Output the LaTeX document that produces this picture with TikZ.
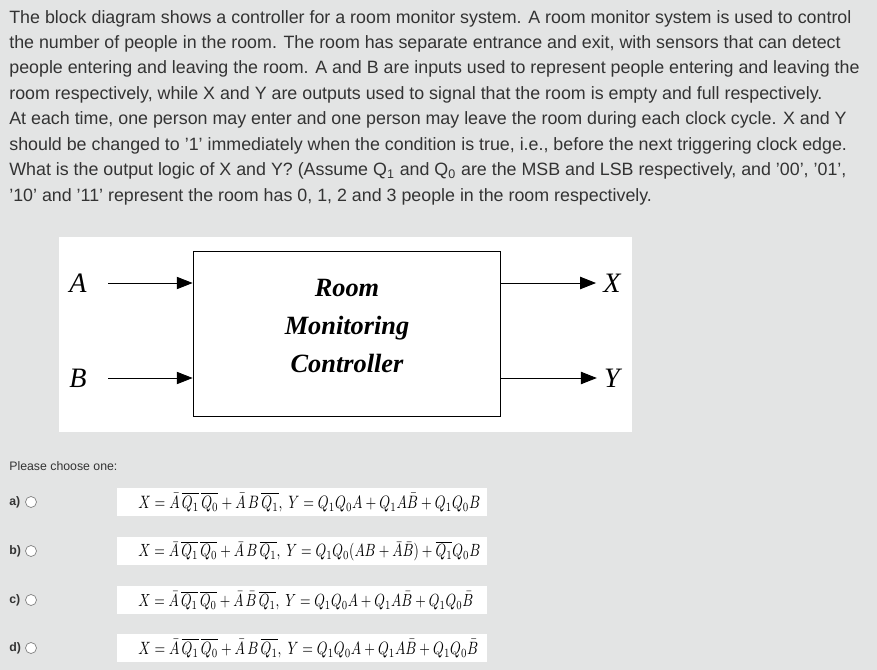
\documentclass[tikz,border=0pt]{standalone}
\usepackage{amsmath}
\usepackage{fontspec}
\setmainfont{Liberation Sans}
\newfontfamily\serifbox{Liberation Serif}
\usetikzlibrary{arrows.meta}
\definecolor{pagebg}{HTML}{E3E4E4}
\definecolor{txt}{HTML}{333333}
\tikzset{
  qline/.style={anchor=base west, inner sep=0pt, text=txt, font=\fontsize{10.15}{12}\selectfont},
  sig/.style={font=\fontsize{16}{18}\selectfont\serifbox\itshape, inner sep=0pt},
  wire/.style={line width=0.5pt, -{Triangle[length=9pt,width=7pt]}},
  optbox/.style={fill=white, draw=none, minimum width=7.4cm, minimum height=0.56cm, anchor=north west, inner sep=0pt},
  optlabel/.style={anchor=west, inner sep=0pt, text=txt, font=\fontsize{7}{8}\selectfont\bfseries},
}
\begin{document}
\begin{tikzpicture}[x=0.02cm,y=-0.02cm]
\fill[pagebg] (0,0) rectangle (877,670);
\useasboundingbox (0,0) rectangle (877,670);
% question text
\node[qline] (l1) at (9,23) {The block diagram shows a controller for a room monitor system. A room monitor system is used to control};
\node[qline] (l2) at (9,48) {the number of people in the room. The room has separate entrance and exit, with sensors that can detect};
\node[qline] (l3) at (9,73.5) {people entering and leaving the room. A and B are inputs used to represent people entering and leaving the};
\node[qline] (l4) at (9,99) {room respectively, while X and Y are outputs used to signal that the room is empty and full respectively.};
\node[qline] (l5) at (9,124.5) {At each time, one person may enter and one person may leave the room during each clock cycle. X and Y};
\node[qline] (l6) at (9,150) {should be changed to '1' immediately when the condition is true, i.e., before the next triggering clock edge.};
\node[qline] (l7) at (9,175.5) {What is the output logic of X and Y? (Assume Q\textsubscript{1} and Q\textsubscript{0} are the MSB and LSB respectively, and '00', '01',};
\node[qline] (l8) at (9,201) {'10' and '11' represent the room has 0, 1, 2 and 3 people in the room respectively.};
% block diagram
\fill[white] (59,237) rectangle (632,432);
\node[draw, line width=0.5pt, minimum width=6.14cm, minimum height=3.3cm, inner sep=0pt] (ctrl) at (346.5,333.5) {};
\node[font=\fontsize{15}{21.5}\selectfont\serifbox\bfseries\itshape, align=center] (ctrltxt) at (347,326) {Room\\Monitoring\\Controller};
\node[sig] (A) at (78,283) {A};
\node[sig] (B) at (78,378) {B};
\node[sig] (X) at (612,283) {X};
\node[sig] (Y) at (612,378) {Y};
\coordinate (ain) at (ctrl.west |- A);
\coordinate (bin) at (ctrl.west |- B);
\coordinate (xout) at (ctrl.east |- X);
\coordinate (yout) at (ctrl.east |- Y);
\draw[wire] ([xshift=12pt]A.east) -- (ain);
\draw[wire] ([xshift=12pt]B.east) -- (bin);
\draw[wire, shorten >=4pt] (xout) -- (X.west);
\draw[wire, shorten >=4pt] (yout) -- (Y.west);
% answers
\node[qline, font=\fontsize{7}{8}\selectfont] (choose) at (9,470) {Please choose one:};
\foreach \lab/\yy/\ww/\eq in {
  a/488/6.84cm/{X=\bar{A}\,\overline{Q_1}\,\overline{Q_0}+\bar{A}\,B\,\overline{Q_1},\; Y=Q_1Q_0A+Q_1A\bar{B}+Q_1Q_0B},
  b/537/6.84cm/{X=\bar{A}\,\overline{Q_1}\,\overline{Q_0}+\bar{A}\,B\,\overline{Q_1},\; Y=Q_1Q_0(AB+\bar{A}\bar{B})+\overline{Q_1}Q_0B},
  c/586/6.7cm/{X=\bar{A}\,\overline{Q_1}\,\overline{Q_0}+\bar{A}\,\bar{B}\,\overline{Q_1},\; Y=Q_1Q_0A+Q_1A\bar{B}+Q_1Q_0\bar{B}},
  d/634/6.8cm/{X=\bar{A}\,\overline{Q_1}\,\overline{Q_0}+\bar{A}\,B\,\overline{Q_1},\; Y=Q_1Q_0A+Q_1A\bar{B}+Q_1Q_0\bar{B}}}{
  \node[optbox] (box\lab) at (117,\yy) {};
  \node[anchor=west, inner sep=0pt] (eq\lab) at ([xshift=0.42cm]box\lab.west) {\scalebox{1}[1.3]{\resizebox{\ww}{!}{$\eq$}}};
  \node[optlabel] (lab\lab) at (9,\yy+14) {\lab)};
  \draw[gray, fill=white, line width=0.4pt] (31,\yy+14) circle (5.5);
}
\end{tikzpicture}
\end{document}
